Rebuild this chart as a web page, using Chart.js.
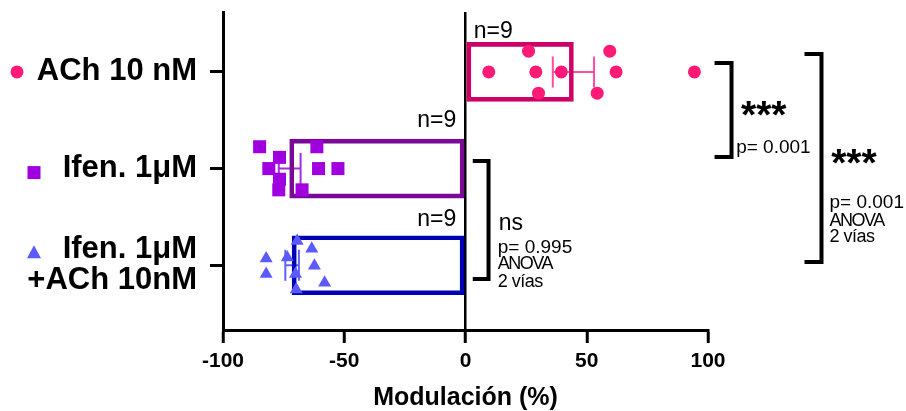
<!DOCTYPE html>
<html>
<head>
<meta charset="utf-8">
<script src="https://cdn.jsdelivr.net/npm/chart.js@4.4.1/dist/chart.umd.min.js"></script>
<style>
    html, body { margin: 0; padding: 0; background: #fff; }
</style>
</head>
<body>
<canvas id="modChart" width="906" height="411"></canvas>
<script>
// groups, top to bottom
var groups = ['ACh 10 nM', 'Ifen. 1μM', ['Ifen. 1μM', '+ACh 10nM']];
// mean +/- SEM per group (modulation %)
var means = [44.5, -72.5, -71.5];
var sems = [8.5, 4.5, 2.8];
// single cells, with their vertical spread inside the bar
var achVals = [9.6, 26, 29, 30.1, 39.5, 59.5, 62.1, 54.3, 94.4];
var achJit = [0, -0.215, 0, 0.22, 0, -0.215, 0, 0.22, 0];
var ifenVals = [-84.9, -76.7, -81.1, -76.7, -77.0, -61.3, -60.6, -52.6, -67.4];
var ifenJit = [-0.226, -0.116, 0, 0.11, 0.22, -0.226, 0, 0, 0.22];
var mixVals = [-82.2, -82.2, -73.5, -69.4, -70.1, -69.8, -63.4, -62.3, -58.1];
var mixJit = [-0.07, 0.09, -0.08, -0.25, 0.09, 0.25, -0.17, 0.005, 0.18];
var xTicks = [-100, -50, 0, 50, 100];

var pointColors = ['#ff1a75', '#a000e0', '#5a5aff'];
var barColors = ['#cc0066', '#7a0a96', '#0000b4'];
var errColors = ['#ff4da0', '#a52ae0', '#6060ff'];
var FONT = "Arial, 'Liberation Sans', sans-serif";

var cells = [achVals, ifenVals, mixVals];

function toPoints(vals, jit, idx) {
    return vals.map(function (v, i) {
        return {x: v, y: idx + jit[i]};
    });
}

// significance brackets, in axis units
var brackets = [
    {x: 109.7, arm: 102.7, y0: -0.092, y1: 0.88, texts: [
        {t: '***', x: 113.6, y: 0.58, f: 'bold 39px'},
        {t: 'p= 0.001', x: 111.6, y: 0.84, f: '19px'}
    ]},
    {x: 146.8, arm: 139.8, y0: -0.185, y1: 1.967, texts: [
        {t: '***', x: 150.8, y: 1.08, f: 'bold 39px'},
        {t: 'p= 0.001', x: 150.1, y: 1.408, f: '19px'},
        {t: 'ANOVA', x: 150.1, y: 1.591, f: '18px', ls: '-1.5px'},
        {t: '2 vías', x: 150.1, y: 1.763, f: '18px', ls: '-0.5px'}
    ]},
    {x: 9.5, arm: 3.0, y0: 0.922, y1: 2.143, texts: [
        {t: 'ns', x: 13.7, y: 1.636, f: '23px'},
        {t: 'p= 0.995', x: 13.3, y: 1.87, f: '19px'},
        {t: 'ANOVA', x: 13.3, y: 2.042, f: '18px', ls: '-1.5px'},
        {t: '2 vías', x: 13.3, y: 2.228, f: '18px', ls: '-0.5px'}
    ]}
];

var extras = {
    id: 'extras',
    beforeDatasetsDraw: function (chart) {
        var c = chart.ctx, xs = chart.scales.x, ys = chart.scales.y;
        c.save();
        c.lineWidth = 2;
        means.forEach(function (m, i) {
            var y = ys.getPixelForValue(i);
            var cap = Math.abs(ys.getPixelForValue(i + 0.16) - y);
            var x0 = xs.getPixelForValue(m - sems[i]);
            var x1 = xs.getPixelForValue(m + sems[i]);
            c.strokeStyle = errColors[i];
            c.beginPath();
            c.moveTo(x0, y); c.lineTo(x1, y);
            c.moveTo(x0, y - cap); c.lineTo(x0, y + cap);
            c.moveTo(x1, y - cap); c.lineTo(x1, y + cap);
            c.stroke();
        });
        c.restore();
    },
    afterDraw: function (chart) {
        var c = chart.ctx, xs = chart.scales.x, ys = chart.scales.y;
        c.save();
        c.fillStyle = '#000';
        c.textBaseline = 'alphabetic';

        // n above each bar, next to the zero line
        var bars = chart.getDatasetMeta(3).data;
        var gap = [4, 12, 10];
        c.font = '23px ' + FONT;
        bars.forEach(function (b, i) {
            var top = b.y - b.height / 2 - gap[i];
            if (means[i] >= 0) {
                c.textAlign = 'left';
                c.fillText('n=' + cells[i].length, b.base + 7, top);
            } else {
                c.textAlign = 'right';
                c.fillText('n=' + cells[i].length, b.base - 8, top);
            }
        });

        // brackets
        c.strokeStyle = '#000';
        c.lineWidth = 4;
        c.textAlign = 'left';
        brackets.forEach(function (br) {
            var x = xs.getPixelForValue(br.x), xa = xs.getPixelForValue(br.arm);
            var y0 = ys.getPixelForValue(br.y0), y1 = ys.getPixelForValue(br.y1);
            c.beginPath();
            c.moveTo(xa, y0); c.lineTo(x, y0); c.lineTo(x, y1); c.lineTo(xa, y1);
            c.stroke();
            br.texts.forEach(function (t) {
                c.font = t.f + ' ' + FONT;
                c.letterSpacing = t.ls || '0px';
                c.fillText(t.t, xs.getPixelForValue(t.x), ys.getPixelForValue(t.y));
            });
        });
        c.letterSpacing = '0px';

        // group markers left of the labels
        var mx = [17, 34, 34], my = [0, 4, -12];
        [0, 1, 2].forEach(function (i) {
            var x = mx[i], y = ys.getPixelForValue(i) + my[i];
            c.fillStyle = pointColors[i];
            c.beginPath();
            if (i === 0) {
                c.arc(x, y, 6.5, 0, Math.PI * 2);
            } else if (i === 1) {
                c.rect(x - 6.5, y - 6.5, 13, 13);
            } else {
                c.moveTo(x, y - 8); c.lineTo(x + 7, y + 5); c.lineTo(x - 7, y + 5);
                c.closePath();
            }
            c.fill();
        });
        c.restore();
    }
};

var ctx = document.getElementById('modChart').getContext('2d');
var myChart = new Chart(ctx, {
    type: 'scatter',
    data: {
        datasets: [{
            type: 'scatter', order: 1,
            data: toPoints(achVals, achJit, 0),
            pointStyle: 'circle', pointRadius: 6.5, pointBorderWidth: 0,
            backgroundColor: pointColors[0]
        },
        {
            type: 'scatter', order: 1,
            data: toPoints(ifenVals, ifenJit, 1),
            pointStyle: 'rect', pointRadius: 9.2, pointBorderWidth: 0,
            backgroundColor: pointColors[1]
        },
        {
            type: 'scatter', order: 1,
            data: toPoints(mixVals, mixJit, 2),
            pointStyle: 'triangle', pointRadius: 7.5, pointBorderWidth: 0,
            backgroundColor: pointColors[2]
        },
        {
            type: 'bar', indexAxis: 'y', order: 2,
            data: means.map(function (m, i) { return {x: m, y: i}; }),
            backgroundColor: 'rgba(0,0,0,0)',
            borderColor: barColors,
            borderWidth: 4,
            borderSkipped: false,
            barThickness: 59
        }]
    },
    options: {
        responsive: false,
        animation: false,
        devicePixelRatio: 1,
        layout: {padding: {top: 12, right: 198, left: 0, bottom: 0}},
        plugins: {legend: {display: false}, tooltip: {enabled: false}},
        scales: {
            x: {
                type: 'linear', position: 'bottom', min: -100, max: 100, offset: false,
                afterBuildTicks: function (s) {
                    s.ticks = xTicks.map(function (v) { return {value: v}; });
                },
                afterFit: function (s) {
                    s.height = 81;
                    s.paddingLeft = 0;
                    s.paddingRight = 0;
                },
                border: {color: '#000', width: 3},
                grid: {
                    offset: false,
                    color: function (c) {
                        return c.tick && c.tick.value === 0 ? '#000' : 'rgba(0,0,0,0)';
                    },
                    lineWidth: 2.5,
                    tickColor: '#000', tickWidth: 3, tickLength: 13
                },
                ticks: {color: '#000', padding: 6, font: {family: FONT, size: 21, weight: 'bold'}},
                title: {
                    display: true, text: 'Modulación (%)', color: '#000', padding: 0,
                    font: {family: FONT, size: 25, weight: 'bold', lineHeight: 1}
                }
            },
            y: {
                type: 'linear', position: 'left', reverse: true, min: -0.62, max: 2.67, offset: false,
                afterBuildTicks: function (s) {
                    s.ticks = [0, 1, 2].map(function (v) { return {value: v}; });
                },
                afterFit: function (s) {
                    s.width = 223;
                    s.paddingTop = 0;
                    s.paddingBottom = 0;
                },
                border: {color: '#000', width: 3},
                grid: {offset: false, drawOnChartArea: false, tickColor: '#000', tickWidth: 3, tickLength: 13},
                ticks: {
                    color: '#000', padding: 13,
                    font: {family: FONT, size: 31, weight: 'bold', lineHeight: 1},
                    callback: function (v) { return groups[v]; }
                }
            }
        }
    },
    plugins: [extras]
});
</script>
</body>
</html>
